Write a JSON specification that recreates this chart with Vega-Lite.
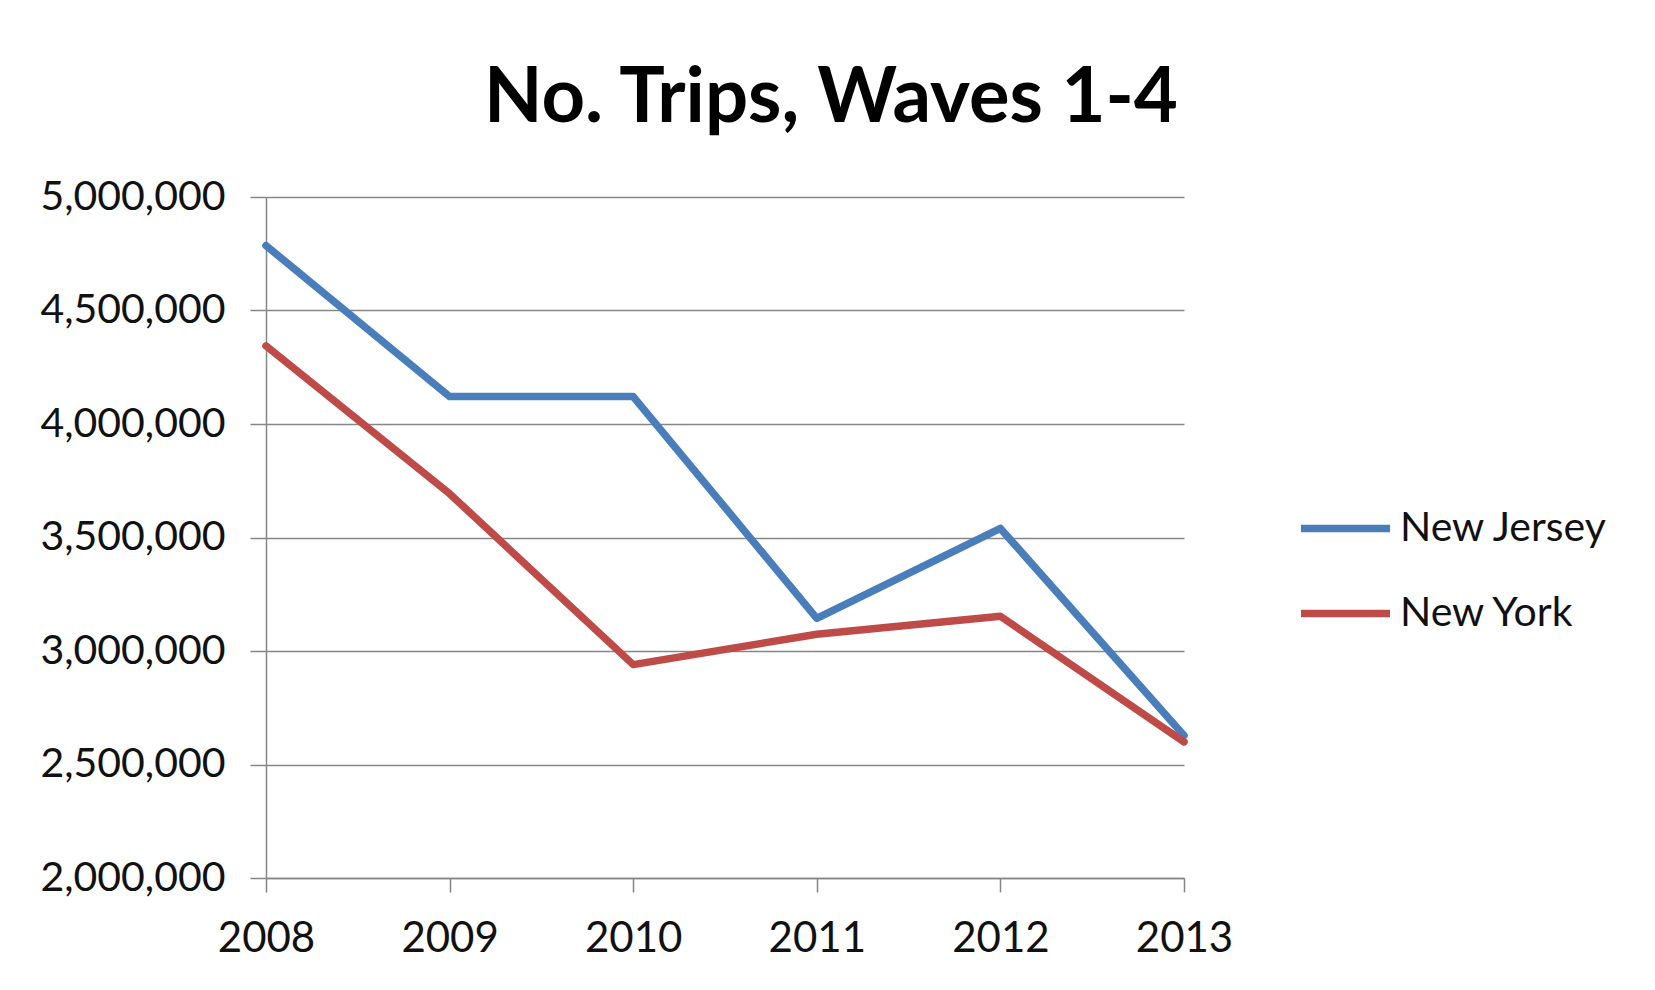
{
  "$schema": "https://vega.github.io/schema/vega-lite/v6.json",
  "width": 918,
  "height": 681,
  "autosize": {"type": "none"},
  "padding": {"left": 266, "top": 197, "right": 471, "bottom": 112},
  "background": "white",
  "title": {
    "text": "No. Trips, Waves 1-4",
    "font": "Lato",
    "fontWeight": "bold",
    "fontSize": 76,
    "color": "black",
    "anchor": "middle",
    "frame": "group",
    "dx": 106,
    "offset": 38
  },
  "data": {
    "values": [
      {"State": "New Jersey", "Year": "2008", "Trips": 4786000},
      {"State": "New Jersey", "Year": "2009", "Trips": 4121000},
      {"State": "New Jersey", "Year": "2010", "Trips": 4121000},
      {"State": "New Jersey", "Year": "2011", "Trips": 3144000},
      {"State": "New Jersey", "Year": "2012", "Trips": 3540000},
      {"State": "New Jersey", "Year": "2013", "Trips": 2628000},
      {"State": "New York", "Year": "2008", "Trips": 4344000},
      {"State": "New York", "Year": "2009", "Trips": 3693000},
      {"State": "New York", "Year": "2010", "Trips": 2940000},
      {"State": "New York", "Year": "2011", "Trips": 3074000},
      {"State": "New York", "Year": "2012", "Trips": 3153000},
      {"State": "New York", "Year": "2013", "Trips": 2600000}
    ]
  },
  "mark": {"type": "line", "strokeWidth": 7.5, "strokeCap": "round", "strokeJoin": "round"},
  "encoding": {
    "x": {
      "field": "Year",
      "type": "ordinal",
      "scale": {"type": "point", "padding": 0},
      "axis": {
        "title": null,
        "labelAngle": 0,
        "labelFont": "Lato",
        "labelFontSize": 42,
        "labelColor": "#111111",
        "labelPadding": 26,
        "tickSize": 14,
        "tickColor": "#868686",
        "tickWidth": 1.5,
        "domainColor": "#868686",
        "domainWidth": 1.5,
        "grid": false
      }
    },
    "y": {
      "field": "Trips",
      "type": "quantitative",
      "scale": {"domain": [2000000, 5000000], "nice": false, "zero": false},
      "axis": {
        "title": null,
        "values": [2000000, 2500000, 3000000, 3500000, 4000000, 4500000, 5000000],
        "format": ",.0f",
        "labelFont": "Lato",
        "labelFontSize": 41,
        "labelColor": "#111111",
        "labelPadding": 25,
        "labelLimit": 400,
        "tickSize": 16,
        "tickColor": "#868686",
        "tickWidth": 1.5,
        "domainColor": "#868686",
        "domainWidth": 1.5,
        "grid": true,
        "gridColor": "#868686",
        "gridWidth": 1.5
      }
    },
    "color": {
      "field": "State",
      "type": "nominal",
      "scale": {"domain": ["New Jersey", "New York"], "range": ["#4A7EBB", "#BE4B48"]},
      "legend": {
        "title": null,
        "orient": "none",
        "legendX": 1031,
        "legendY": 283,
        "padding": 0,
        "symbolType": "stroke",
        "symbolSize": 7921,
        "symbolStrokeWidth": 7.5,
        "labelFont": "Lato",
        "labelFontSize": 41,
        "labelColor": "#111111",
        "labelOffset": 6,
        "labelLimit": 400,
        "rowPadding": 16
      }
    }
  },
  "config": {"view": {"stroke": null}}
}
